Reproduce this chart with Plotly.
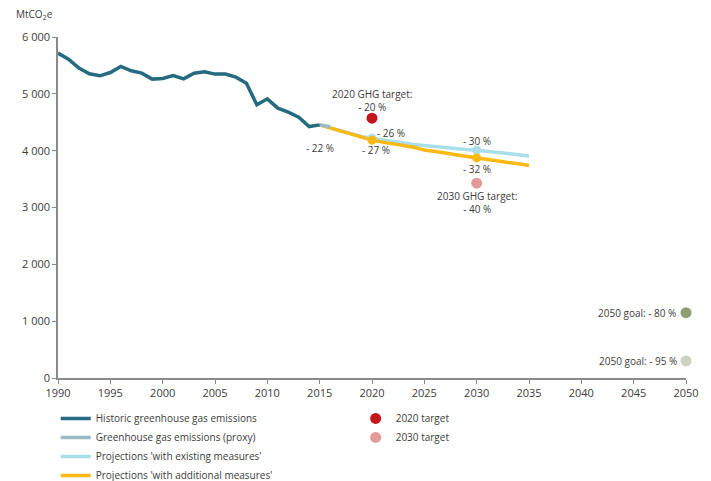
import plotly.graph_objects as go

hist_years = list(range(1990, 2016))
hist_vals = [5716, 5610, 5452, 5352, 5317, 5375, 5481, 5405, 5364, 5259,
             5270, 5322, 5264, 5364, 5387, 5347, 5347, 5294, 5188, 4806,
             4912, 4748, 4678, 4590, 4424, 4454]

proxy_years = [2015, 2016]
proxy_vals = [4454, 4420]

proj_years = list(range(2015, 2036))
wem_vals = [4454, 4410, 4350, 4300, 4250, 4220, 4190, 4170, 4140, 4110, 4090,
            4070, 4050, 4030, 4020, 4009, 3990, 3970, 3950, 3930, 3908]
wam_vals = [4454, 4400, 4340, 4280, 4230, 4185, 4150, 4120, 4090, 4060, 4010,
            3990, 3960, 3930, 3900, 3873, 3840, 3810, 3790, 3770, 3738]

mark_years = [2020, 2030]
wem_marks = [4220, 4009]
wam_marks = [4185, 3873]

target2020 = (2020, 4572)
target2030 = (2030, 3428)
goal_years = [2050, 2050]
goal_vals = [1150, 300]

y_ticks = [0, 1000, 2000, 3000, 4000, 5000, 6000]
y_tick_labels = ["0", "1 000", "2 000", "3 000", "4 000", "5 000", "6 000"]
x_ticks = list(range(1990, 2051, 5))

C_HIST = "#266a80"
C_PROXY = "#9bb9c6"
C_WEM = "#a9dfe9"
C_WAM = "#fbb912"
C_T20 = "#c4161c"
C_T30 = "#e59a9a"
C_G80 = "#8f9d72"
C_G95 = "#cdd3c2"

fig = go.Figure()
fig.add_trace(go.Scatter(x=proj_years, y=wem_vals, mode="lines",
                         line=dict(color=C_WEM, width=3.5),
                         name="Projections 'with existing measures'", legendrank=3))
fig.add_trace(go.Scatter(x=proj_years, y=wam_vals, mode="lines",
                         line=dict(color=C_WAM, width=3.5),
                         name="Projections 'with additional measures'", legendrank=4))
fig.add_trace(go.Scatter(x=proxy_years, y=proxy_vals, mode="lines",
                         line=dict(color=C_PROXY, width=3.5),
                         name="Greenhouse gas emissions (proxy)", legendrank=2))
fig.add_trace(go.Scatter(x=hist_years, y=hist_vals, mode="lines",
                         line=dict(color=C_HIST, width=3.5),
                         name="Historic greenhouse gas emissions", legendrank=1))
fig.add_trace(go.Scatter(x=mark_years, y=wem_marks, mode="markers",
                         marker=dict(color=C_WEM, size=9), showlegend=False))
fig.add_trace(go.Scatter(x=mark_years, y=wam_marks, mode="markers",
                         marker=dict(color=C_WAM, size=9), showlegend=False))
fig.add_trace(go.Scatter(x=[target2020[0]], y=[target2020[1]], mode="markers",
                         marker=dict(color=C_T20, size=11), name="2020 target",
                         legend="legend2"))
fig.add_trace(go.Scatter(x=[target2030[0]], y=[target2030[1]], mode="markers",
                         marker=dict(color=C_T30, size=11), name="2030 target",
                         legend="legend2"))
fig.add_trace(go.Scatter(x=goal_years, y=goal_vals, mode="markers",
                         marker=dict(color=[C_G80, C_G95], size=11),
                         showlegend=False, cliponaxis=False))

tc = "#3c3c3c"
ann = [
    dict(x=2015.0, y=4454, text="- 22 %", xanchor="center", yshift=-23),
    dict(x=2020, y=target2020[1], text="2020 GHG target:<br>- 20 %", xanchor="center", yanchor="bottom", yshift=2),
    dict(x=2021.8, y=wem_marks[0], text="- 26 %", xanchor="center", yshift=5),
    dict(x=2020.4, y=wam_marks[0], text="- 27 %", xanchor="center", yshift=-10),
    dict(x=2030, y=wem_marks[1], text="- 30 %", xanchor="center", yshift=9),
    dict(x=2030, y=wam_marks[1], text="- 32 %", xanchor="center", yshift=-11),
    dict(x=2030, y=target2030[1], text="2030 GHG target:<br>- 40 %", xanchor="center", yanchor="top", yshift=-4),
    dict(x=2050, y=goal_vals[0], text="2050 goal: - 80 %", xanchor="right", xshift=-8),
    dict(x=2050, y=goal_vals[1], text="2050 goal: - 95 %", xanchor="right", xshift=-7),
]
annotations = []
for a in ann:
    d = dict(xref="x", yref="y", showarrow=False, font=dict(size=10, color=tc))
    d.update(a)
    annotations.append(d)
annotations.append(dict(xref="paper", yref="paper", x=-0.070, y=1.037, xanchor="left",
                        yanchor="bottom", showarrow=False, text="MtCO<sub>2</sub>e",
                        font=dict(size=10, color=tc)))

fig.update_layout(
    width=703, height=473,
    margin=dict(l=50, r=25, t=29, b=103, autoexpand=False),
    paper_bgcolor="white", plot_bgcolor="white",
    font=dict(family="Open Sans", size=10, color=tc),
    annotations=annotations,
    legend=dict(x=-0.0036, y=-0.076, xanchor="left", yanchor="top",
                tracegroupgap=0, itemwidth=30, font=dict(size=10, color=tc),
                bgcolor="rgba(0,0,0,0)"),
    legend2=dict(x=0.474, y=-0.076, xanchor="left", yanchor="top",
                 itemwidth=30, font=dict(size=10, color=tc),
                 bgcolor="rgba(0,0,0,0)"),
    xaxis=dict(range=[1990, 2050], tickvals=x_ticks, showgrid=False,
               showline=True, linecolor="#8a8a8a", linewidth=1.5,
               ticks="outside", ticklen=4, tickcolor="#8a8a8a", zeroline=False,
               tickfont=dict(size=11, color=tc)),
    yaxis=dict(range=[0, 6000], tickvals=y_ticks, ticktext=y_tick_labels,
               showgrid=False, showline=True, linecolor="#8a8a8a", linewidth=1.5,
               ticks="outside", ticklen=4, tickcolor="#8a8a8a", zeroline=False,
               tickfont=dict(size=11, color=tc)),
)

fig.write_html("out.html")
